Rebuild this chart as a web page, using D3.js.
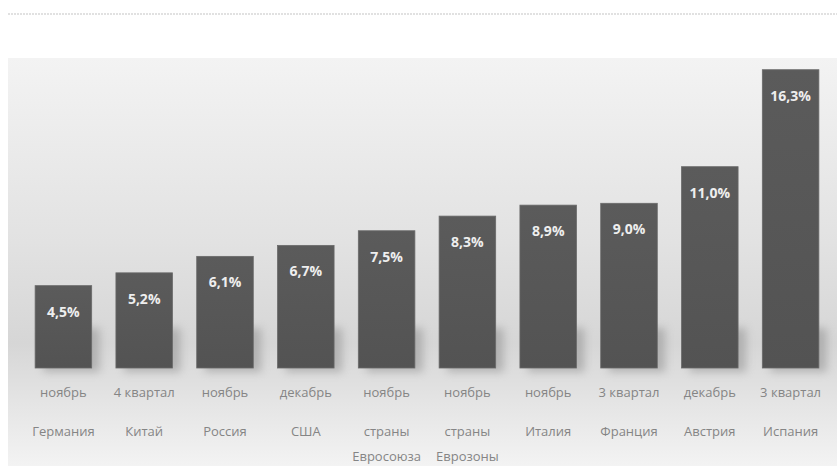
<html>
<head>
<meta charset="utf-8">
<style>
body { margin: 0; background: #fff; }
text { font-family: "Open Sans", "DejaVu Sans", sans-serif; }
</style>
</head>
<body>
<svg width="837" height="466" id="chart"></svg>

<script src="https://d3js.org/d3.v7.min.js"></script>
<script>
var periods = ["ноябрь", "4 квартал", "ноябрь", "декабрь", "ноябрь", "ноябрь", "ноябрь", "3 квартал", "декабрь", "3 квартал"];
var countries = ["Германия", "Китай", "Россия", "США", "страны\nЕвросоюза", "страны\nЕврозоны", "Италия", "Франция", "Австрия", "Испания"];
var values = [4.5, 5.2, 6.1, 6.7, 7.5, 8.3, 8.9, 9.0, 11.0, 16.3];
var labels = ["4,5%", "5,2%", "6,1%", "6,7%", "7,5%", "8,3%", "8,9%", "9,0%", "11,0%", "16,3%"];

var svg = d3.select("#chart");
var defs = svg.append("defs");

var bg = defs.append("linearGradient").attr("id", "bg")
    .attr("x1", 0).attr("y1", 0).attr("x2", 0).attr("y2", 1);
bg.append("stop").attr("offset", "0%").attr("stop-color", "#f3f3f3");
bg.append("stop").attr("offset", "45%").attr("stop-color", "#e2e2e2");
bg.append("stop").attr("offset", "70%").attr("stop-color", "#d6d6d6");
bg.append("stop").attr("offset", "84%").attr("stop-color", "#e4e4e4");
bg.append("stop").attr("offset", "100%").attr("stop-color", "#f3f3f3");

var barGrad = defs.append("linearGradient").attr("id", "bar")
    .attr("x1", 0).attr("y1", 0).attr("x2", 0).attr("y2", 1);
barGrad.append("stop").attr("offset", "0%").attr("stop-color", "#5b5b5b");
barGrad.append("stop").attr("offset", "100%").attr("stop-color", "#535353");

var blur = defs.append("filter").attr("id", "shadow")
    .attr("x", "-30%").attr("y", "-30%").attr("width", "160%").attr("height", "160%");
blur.append("feGaussianBlur").attr("stdDeviation", 4);

// frame
svg.append("line").attr("x1", 8).attr("x2", 837).attr("y1", 14).attr("y2", 14)
    .style("stroke", "#d8d8d8").style("stroke-width", 1.5).style("stroke-dasharray", "2,1");
svg.append("rect").attr("x", 8).attr("y", 58).attr("width", 829).attr("height", 408)
    .style("fill", "url(#bg)");

var x = d3.scaleBand().domain(d3.range(values.length)).range([23, 831])
    .paddingInner(0.3).paddingOuter(0.15);
var y = d3.scaleLinear().domain([0, 20]).range([368, 2]);

// shadows
svg.selectAll(".shadow").data(values).enter().append("rect")
    .attr("class", "shadow")
    .attr("x", function(d, i) { return x(i) + 8; })
    .attr("y", function(d) { return y(0) - Math.min(40, y(0) - y(d)); })
    .attr("width", x.bandwidth())
    .attr("height", function(d) { return Math.min(40, y(0) - y(d)) + 4; })
    .style("fill", "#8a8a8a")
    .style("opacity", 0.5)
    .attr("filter", "url(#shadow)");

svg.selectAll(".bar").data(values).enter().append("rect")
    .attr("class", "bar")
    .attr("x", function(d, i) { return x(i); })
    .attr("y", function(d) { return y(d); })
    .attr("width", x.bandwidth())
    .attr("height", function(d) { return y(0) - y(d); })
    .style("fill", "url(#bar)")
    .style("stroke", "#6a6a6a")
    .style("stroke-width", 0.8);

svg.selectAll(".val").data(values).enter().append("text")
    .attr("class", "val")
    .attr("x", function(d, i) { return x(i) + x.bandwidth() / 2; })
    .attr("y", function(d) { return y(d) + 31; })
    .attr("text-anchor", "middle")
    .style("fill", "#eeeeee")
    .style("font-size", "14px")
    .style("font-weight", "bold")
    .text(function(d, i) { return labels[i]; });

svg.selectAll(".period").data(periods).enter().append("text")
    .attr("class", "period")
    .attr("x", function(d, i) { return x(i) + x.bandwidth() / 2; })
    .attr("y", 397)
    .attr("text-anchor", "middle")
    .style("fill", "#858585")
    .style("font-size", "13px")
    .text(function(d) { return d; });

var country = svg.selectAll(".country").data(countries).enter().append("text")
    .attr("class", "country")
    .attr("x", function(d, i) { return x(i) + x.bandwidth() / 2; })
    .attr("y", 436)
    .attr("text-anchor", "middle")
    .style("fill", "#858585")
    .style("font-size", "13px");
country.selectAll("tspan").data(function(d) { return d.split("\n"); }).enter().append("tspan")
    .attr("x", function() { return d3.select(this.parentNode).attr("x"); })
    .attr("dy", function(d, i) { return i ? 25 : 0; })
    .text(function(d) { return d; });
</script>
</body>
</html>
